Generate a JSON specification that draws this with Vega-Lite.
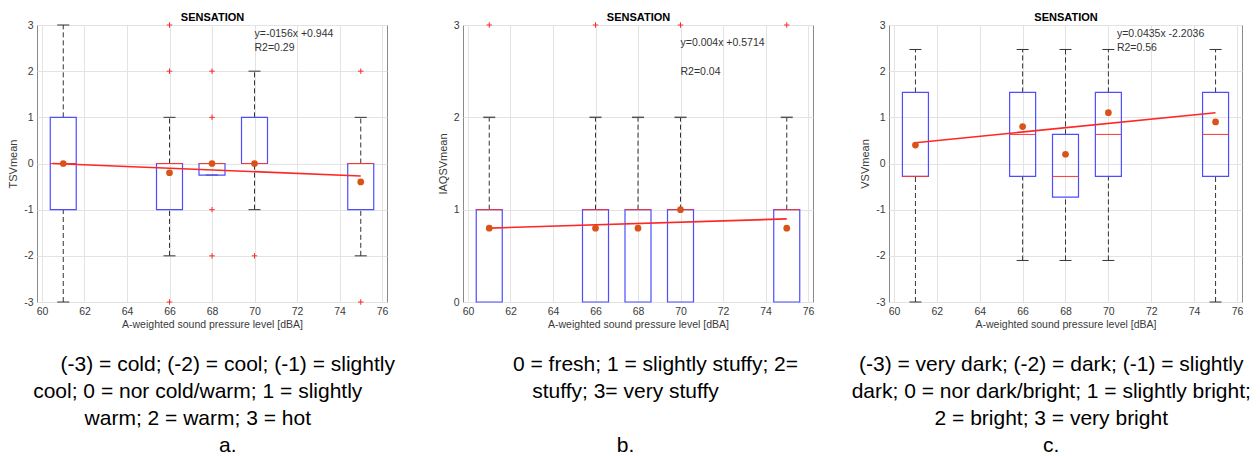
{
  "$schema": "https://vega.github.io/schema/vega-lite/v6.json",
  "background": "white",
  "padding": {"left": 0, "top": 10, "right": 0, "bottom": 0},
  "spacing": 76,
  "bounds": "flush",
  "datasets": {
    "boxes": [
      {"p": "a", "x": 61, "q1": -1, "q3": 1, "med": 0, "mean": 0},
      {"p": "a", "x": 66, "q1": -1, "q3": 0, "med": 0, "mean": -0.2},
      {"p": "a", "x": 68, "q1": -0.25, "q3": 0, "med": 0, "mean": 0},
      {"p": "a", "x": 70, "q1": 0, "q3": 1, "med": 0, "mean": 0},
      {"p": "a", "x": 75, "q1": -1, "q3": 0, "med": 0, "mean": -0.4},
      {"p": "b", "x": 61, "q1": 0, "q3": 1, "med": 1, "mean": 0.8},
      {"p": "b", "x": 66, "q1": 0, "q3": 1, "med": 1, "mean": 0.8},
      {"p": "b", "x": 68, "q1": 0, "q3": 1, "med": 1, "mean": 0.8},
      {"p": "b", "x": 70, "q1": 0, "q3": 1, "med": 1, "mean": 1.0},
      {"p": "b", "x": 75, "q1": 0, "q3": 1, "med": 1, "mean": 0.8},
      {"p": "c", "x": 61, "q1": -0.28, "q3": 1.54, "med": -0.28, "mean": 0.4},
      {"p": "c", "x": 66, "q1": -0.28, "q3": 1.54, "med": 0.63, "mean": 0.8},
      {"p": "c", "x": 68, "q1": -0.73, "q3": 0.63, "med": -0.28, "mean": 0.2},
      {"p": "c", "x": 70, "q1": -0.28, "q3": 1.54, "med": 0.63, "mean": 1.1},
      {"p": "c", "x": 75, "q1": -0.28, "q3": 1.54, "med": 0.63, "mean": 0.9}
    ],
    "whiskers": [
      {"p": "a", "x": 61, "lo": 1, "hi": 3}, {"p": "a", "x": 61, "lo": -3, "hi": -1},
      {"p": "a", "x": 66, "lo": 0, "hi": 1}, {"p": "a", "x": 66, "lo": -2, "hi": -1},
      {"p": "a", "x": 70, "lo": 1, "hi": 2}, {"p": "a", "x": 70, "lo": -1, "hi": 0},
      {"p": "a", "x": 75, "lo": 0, "hi": 1}, {"p": "a", "x": 75, "lo": -2, "hi": -1},
      {"p": "b", "x": 61, "lo": 1, "hi": 2}, {"p": "b", "x": 66, "lo": 1, "hi": 2},
      {"p": "b", "x": 68, "lo": 1, "hi": 2}, {"p": "b", "x": 70, "lo": 1, "hi": 2},
      {"p": "b", "x": 75, "lo": 1, "hi": 2},
      {"p": "c", "x": 61, "lo": 1.54, "hi": 2.47}, {"p": "c", "x": 61, "lo": -3, "hi": -0.28},
      {"p": "c", "x": 66, "lo": 1.54, "hi": 2.47}, {"p": "c", "x": 66, "lo": -2.1, "hi": -0.28},
      {"p": "c", "x": 68, "lo": 0.63, "hi": 2.47}, {"p": "c", "x": 68, "lo": -2.1, "hi": -0.73},
      {"p": "c", "x": 70, "lo": 1.54, "hi": 2.47}, {"p": "c", "x": 70, "lo": -2.1, "hi": -0.28},
      {"p": "c", "x": 75, "lo": 1.54, "hi": 2.47}, {"p": "c", "x": 75, "lo": -3, "hi": -0.28}
    ],
    "caps": [
      {"p": "a", "x": 61, "y": 3}, {"p": "a", "x": 61, "y": -3},
      {"p": "a", "x": 66, "y": 1}, {"p": "a", "x": 66, "y": -2},
      {"p": "a", "x": 68, "y": -0.25},
      {"p": "a", "x": 70, "y": 2}, {"p": "a", "x": 70, "y": -1},
      {"p": "a", "x": 75, "y": 1}, {"p": "a", "x": 75, "y": -2},
      {"p": "b", "x": 61, "y": 2}, {"p": "b", "x": 66, "y": 2}, {"p": "b", "x": 68, "y": 2},
      {"p": "b", "x": 70, "y": 2}, {"p": "b", "x": 75, "y": 2},
      {"p": "c", "x": 61, "y": 2.47}, {"p": "c", "x": 61, "y": -3},
      {"p": "c", "x": 66, "y": 2.47}, {"p": "c", "x": 66, "y": -2.1},
      {"p": "c", "x": 68, "y": 2.47}, {"p": "c", "x": 68, "y": -2.1},
      {"p": "c", "x": 70, "y": 2.47}, {"p": "c", "x": 70, "y": -2.1},
      {"p": "c", "x": 75, "y": 2.47}, {"p": "c", "x": 75, "y": -3}
    ],
    "outliers": [
      {"p": "a", "x": 66, "y": 3}, {"p": "a", "x": 66, "y": 2}, {"p": "a", "x": 66, "y": -3},
      {"p": "a", "x": 68, "y": 2}, {"p": "a", "x": 68, "y": 1}, {"p": "a", "x": 68, "y": -1}, {"p": "a", "x": 68, "y": -2},
      {"p": "a", "x": 70, "y": -2},
      {"p": "a", "x": 75, "y": 2}, {"p": "a", "x": 75, "y": -3},
      {"p": "b", "x": 61, "y": 3}, {"p": "b", "x": 66, "y": 3}, {"p": "b", "x": 70, "y": 3}, {"p": "b", "x": 75, "y": 3}
    ],
    "fit": [
      {"p": "a", "x": 60.5, "y": 0.0}, {"p": "a", "x": 75, "y": -0.27},
      {"p": "b", "x": 61, "y": 0.8}, {"p": "b", "x": 75, "y": 0.9},
      {"p": "c", "x": 61, "y": 0.45}, {"p": "c", "x": 75, "y": 1.1}
    ],
    "notes": [
      {"p": "a", "x": 70, "y": 2.8, "t": "y=-0156x +0.944"},
      {"p": "a", "x": 70, "y": 2.5, "t": "R2=0.29"},
      {"p": "b", "x": 70, "y": 2.8, "t": "y=0.004x +0.5714"},
      {"p": "b", "x": 70, "y": 2.49, "t": "R2=0.04"},
      {"p": "c", "x": 70.4, "y": 2.8, "t": "y=0.0435x -2.2036"},
      {"p": "c", "x": 70.4, "y": 2.5, "t": "R2=0.56"}
    ]
  },
  "hconcat": [
    {
      "width": 350, "height": 277,
      "title": {"text": ["\u2800\u2800\u2800\u2800(-3) = cold; (-2) = cool; (-1) = slightly", "cool; 0 = nor cold/warm; 1 = slightly", "warm; 2 = warm; 3 = hot", "\u2800\u2800\u2800\u2800a."], "orient": "bottom", "anchor": "middle", "frame": "bounds", "font": "Liberation Sans", "fontSize": 21, "fontWeight": "normal", "color": "#000", "lineHeight": 27, "offset": 24},
      "resolve": {"axis": {"x": "independent"}},
      "layer": [
        {"data": {"name": "whiskers"}, "transform": [{"filter": "datum.p == 'a'"}],
         "mark": {"type": "rule", "strokeDash": [5, 3], "color": "#333333", "strokeWidth": 1},
         "encoding": {
           "x": {"field": "x", "type": "quantitative", "scale": {"domain": [60, 76], "nice": false},
                 "axis": {"orient": "bottom", "values": [60, 62, 64, 66, 68, 70, 72, 74, 76], "title": "A-weighted sound pressure level [dBA]", "grid": true, "labelPadding": 4, "titlePadding": 3}},
           "y": {"field": "lo", "type": "quantitative", "scale": {"domain": [-3, 3], "nice": false},
                 "axis": {"values": [-3, -2, -1, 0, 1, 2, 3], "labelExpr": "datum.value + ''", "title": "TSVmean", "grid": true, "labelPadding": 4, "titlePadding": 5, "titleFontSize": 11, "minExtent": 0}},
           "y2": {"field": "hi"}}},
        {"data": {"name": "caps"}, "transform": [{"filter": "datum.p == 'a'"}],
         "mark": {"type": "tick", "orient": "horizontal", "size": 12, "thickness": 1, "color": "#333333", "opacity": 1},
         "encoding": {"x": {"field": "x", "type": "quantitative", "axis": null}, "y": {"field": "y", "type": "quantitative"}}},
        {"data": {"name": "boxes"}, "transform": [{"filter": "datum.p == 'a'"}],
         "mark": {"type": "bar", "size": 26, "fillOpacity": 0, "stroke": "#4d4dff", "strokeWidth": 1.2},
         "encoding": {"x": {"field": "x", "type": "quantitative", "axis": null}, "y": {"field": "q1", "type": "quantitative"}, "y2": {"field": "q3"}}},
        {"data": {"name": "boxes"}, "transform": [{"filter": "datum.p == 'a'"}],
         "mark": {"type": "tick", "orient": "horizontal", "size": 26, "thickness": 1, "color": "#ff3333", "opacity": 1},
         "encoding": {"x": {"field": "x", "type": "quantitative", "axis": null}, "y": {"field": "med", "type": "quantitative"}}},
        {"data": {"name": "outliers"}, "transform": [{"filter": "datum.p == 'a'"}],
         "mark": {"type": "point", "shape": "M-1,0L1,0M0,-1L0,1", "filled": false, "color": "#ff2a2a", "size": 30, "strokeWidth": 1, "opacity": 1},
         "encoding": {"x": {"field": "x", "type": "quantitative", "axis": null}, "y": {"field": "y", "type": "quantitative"}}},
        {"data": {"name": "fit"}, "transform": [{"filter": "datum.p == 'a'"}],
         "mark": {"type": "line", "color": "#ff2626", "strokeWidth": 1.6},
         "encoding": {"x": {"field": "x", "type": "quantitative", "axis": null}, "y": {"field": "y", "type": "quantitative"}}},
        {"data": {"name": "boxes"}, "transform": [{"filter": "datum.p == 'a'"}],
         "mark": {"type": "point", "shape": "circle", "filled": true, "color": "#d95319", "size": 45, "opacity": 1},
         "encoding": {"x": {"field": "x", "type": "quantitative", "axis": null}, "y": {"field": "mean", "type": "quantitative"}}},
        {"data": {"name": "notes"}, "transform": [{"filter": "datum.p == 'a'"}],
         "mark": {"type": "text", "align": "left", "baseline": "middle", "fontSize": 10.5, "color": "#333333", "font": "Liberation Sans"},
         "encoding": {
           "x": {"field": "x", "type": "quantitative", "axis": {"orient": "top", "title": "SENSATION", "labels": false, "ticks": false, "domain": false, "grid": false, "titleFontWeight": "bold", "titleFontSize": 11, "titleColor": "#000000", "titlePadding": 3}},
           "y": {"field": "y", "type": "quantitative"},
           "text": {"field": "t"}}}
      ]
    },
    {
      "width": 350, "height": 277,
      "title": {"text": ["\u2800\u2800\u2800\u28000 = fresh; 1 = slightly stuffy; 2=", "stuffy; 3= very stuffy", "\u2800", "b."], "orient": "bottom", "anchor": "middle", "frame": "bounds", "font": "Liberation Sans", "fontSize": 21, "fontWeight": "normal", "color": "#000", "lineHeight": 27, "offset": 24},
      "resolve": {"axis": {"x": "independent"}},
      "layer": [
        {"data": {"name": "whiskers"}, "transform": [{"filter": "datum.p == 'b'"}],
         "mark": {"type": "rule", "strokeDash": [5, 3], "color": "#333333", "strokeWidth": 1},
         "encoding": {
           "x": {"field": "x", "type": "quantitative", "scale": {"domain": [60, 76], "nice": false},
                 "axis": {"orient": "bottom", "values": [60, 62, 64, 66, 68, 70, 72, 74, 76], "title": "A-weighted sound pressure level [dBA]", "grid": true, "labelPadding": 4, "titlePadding": 3}},
           "y": {"field": "lo", "type": "quantitative", "scale": {"domain": [0, 3], "nice": false},
                 "axis": {"values": [0, 1, 2, 3], "labelExpr": "datum.value + ''", "title": "IAQSVmean", "grid": true, "labelPadding": 4, "titlePadding": 5, "titleFontSize": 11, "minExtent": 0}},
           "y2": {"field": "hi"}}},
        {"data": {"name": "caps"}, "transform": [{"filter": "datum.p == 'b'"}],
         "mark": {"type": "tick", "orient": "horizontal", "size": 12, "thickness": 1.5, "color": "#555555", "opacity": 1},
         "encoding": {"x": {"field": "x", "type": "quantitative", "axis": null}, "y": {"field": "y", "type": "quantitative"}}},
        {"data": {"name": "boxes"}, "transform": [{"filter": "datum.p == 'b'"}],
         "mark": {"type": "bar", "size": 26, "fillOpacity": 0, "stroke": "#4d4dff", "strokeWidth": 1.2},
         "encoding": {"x": {"field": "x", "type": "quantitative", "axis": null}, "y": {"field": "q1", "type": "quantitative"}, "y2": {"field": "q3"}}},
        {"data": {"name": "boxes"}, "transform": [{"filter": "datum.p == 'b'"}],
         "mark": {"type": "tick", "orient": "horizontal", "size": 26, "thickness": 1, "color": "#ff3333", "opacity": 1},
         "encoding": {"x": {"field": "x", "type": "quantitative", "axis": null}, "y": {"field": "med", "type": "quantitative"}}},
        {"data": {"name": "outliers"}, "transform": [{"filter": "datum.p == 'b'"}],
         "mark": {"type": "point", "shape": "M-1,0L1,0M0,-1L0,1", "filled": false, "color": "#ff2a2a", "size": 30, "strokeWidth": 1, "opacity": 1},
         "encoding": {"x": {"field": "x", "type": "quantitative", "axis": null}, "y": {"field": "y", "type": "quantitative"}}},
        {"data": {"name": "fit"}, "transform": [{"filter": "datum.p == 'b'"}],
         "mark": {"type": "line", "color": "#ff2626", "strokeWidth": 1.6},
         "encoding": {"x": {"field": "x", "type": "quantitative", "axis": null}, "y": {"field": "y", "type": "quantitative"}}},
        {"data": {"name": "boxes"}, "transform": [{"filter": "datum.p == 'b'"}],
         "mark": {"type": "point", "shape": "circle", "filled": true, "color": "#d95319", "size": 45, "opacity": 1},
         "encoding": {"x": {"field": "x", "type": "quantitative", "axis": null}, "y": {"field": "mean", "type": "quantitative"}}},
        {"data": {"name": "notes"}, "transform": [{"filter": "datum.p == 'b'"}],
         "mark": {"type": "text", "align": "left", "baseline": "middle", "fontSize": 10.5, "color": "#333333", "font": "Liberation Sans"},
         "encoding": {
           "x": {"field": "x", "type": "quantitative", "axis": {"orient": "top", "title": "SENSATION", "labels": false, "ticks": false, "domain": false, "grid": false, "titleFontWeight": "bold", "titleFontSize": 11, "titleColor": "#000000", "titlePadding": 3}},
           "y": {"field": "y", "type": "quantitative"},
           "text": {"field": "t"}}}
      ]
    },
    {
      "width": 353, "height": 277,
      "title": {"text": ["(-3) = very dark; (-2) = dark; (-1) = slightly", "dark; 0 = nor dark/bright; 1 = slightly bright;", "2 = bright; 3 = very bright", "c."], "orient": "bottom", "anchor": "middle", "frame": "bounds", "font": "Liberation Sans", "fontSize": 21, "fontWeight": "normal", "color": "#000", "lineHeight": 27, "offset": 24},
      "resolve": {"axis": {"x": "independent"}},
      "layer": [
        {"data": {"name": "whiskers"}, "transform": [{"filter": "datum.p == 'c'"}],
         "mark": {"type": "rule", "strokeDash": [5, 3], "color": "#333333", "strokeWidth": 1},
         "encoding": {
           "x": {"field": "x", "type": "quantitative", "scale": {"domain": [60, 76], "nice": false},
                 "axis": {"orient": "bottom", "values": [60, 62, 64, 66, 68, 70, 72, 74, 76], "title": "A-weighted sound pressure level [dBA]", "grid": true, "labelPadding": 4, "titlePadding": 3}},
           "y": {"field": "lo", "type": "quantitative", "scale": {"domain": [-3, 3], "nice": false},
                 "axis": {"values": [-3, -2, -1, 0, 1, 2, 3], "labelExpr": "datum.value + ''", "title": "VSVmean", "grid": true, "labelPadding": 4, "titlePadding": 5, "titleFontSize": 11, "minExtent": 0}},
           "y2": {"field": "hi"}}},
        {"data": {"name": "caps"}, "transform": [{"filter": "datum.p == 'c'"}],
         "mark": {"type": "tick", "orient": "horizontal", "size": 12, "thickness": 1, "color": "#333333", "opacity": 1},
         "encoding": {"x": {"field": "x", "type": "quantitative", "axis": null}, "y": {"field": "y", "type": "quantitative"}}},
        {"data": {"name": "boxes"}, "transform": [{"filter": "datum.p == 'c'"}],
         "mark": {"type": "bar", "size": 26, "fillOpacity": 0, "stroke": "#4d4dff", "strokeWidth": 1.2},
         "encoding": {"x": {"field": "x", "type": "quantitative", "axis": null}, "y": {"field": "q1", "type": "quantitative"}, "y2": {"field": "q3"}}},
        {"data": {"name": "boxes"}, "transform": [{"filter": "datum.p == 'c'"}],
         "mark": {"type": "tick", "orient": "horizontal", "size": 26, "thickness": 1, "color": "#ff3333", "opacity": 1},
         "encoding": {"x": {"field": "x", "type": "quantitative", "axis": null}, "y": {"field": "med", "type": "quantitative"}}},
        {"data": {"name": "fit"}, "transform": [{"filter": "datum.p == 'c'"}],
         "mark": {"type": "line", "color": "#ff2626", "strokeWidth": 1.6},
         "encoding": {"x": {"field": "x", "type": "quantitative", "axis": null}, "y": {"field": "y", "type": "quantitative"}}},
        {"data": {"name": "boxes"}, "transform": [{"filter": "datum.p == 'c'"}],
         "mark": {"type": "point", "shape": "circle", "filled": true, "color": "#d95319", "size": 45, "opacity": 1},
         "encoding": {"x": {"field": "x", "type": "quantitative", "axis": null}, "y": {"field": "mean", "type": "quantitative"}}},
        {"data": {"name": "notes"}, "transform": [{"filter": "datum.p == 'c'"}],
         "mark": {"type": "text", "align": "left", "baseline": "middle", "fontSize": 10.5, "color": "#333333", "font": "Liberation Sans"},
         "encoding": {
           "x": {"field": "x", "type": "quantitative", "axis": {"orient": "top", "title": "SENSATION", "labels": false, "ticks": false, "domain": false, "grid": false, "titleFontWeight": "bold", "titleFontSize": 11, "titleColor": "#000000", "titlePadding": 3}},
           "y": {"field": "y", "type": "quantitative"},
           "text": {"field": "t"}}}
      ]
    }
  ],
  "config": {
    "font": "Liberation Sans",
    "view": {"stroke": "#8a8a8a", "strokeWidth": 1},
    "axis": {"labelFontSize": 10.5, "labelColor": "#3a3a3a", "titleFontSize": 10.5, "titleFontWeight": "normal", "titleColor": "#3a3a3a", "gridColor": "#e3e3e3", "domain": false, "ticks": false, "labelFont": "Liberation Sans", "titleFont": "Liberation Sans"}
  }
}
